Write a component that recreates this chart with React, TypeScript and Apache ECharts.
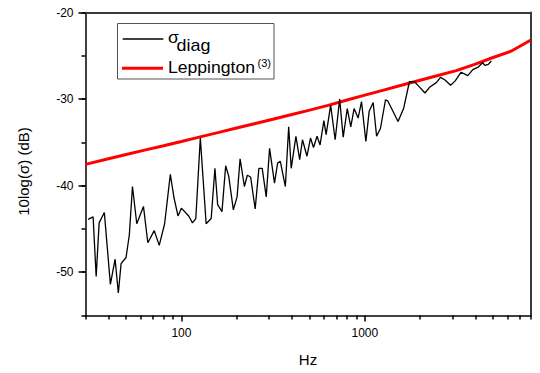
import React, { useEffect, useRef } from "react";
import * as echarts from "echarts";

// sigma_diag (Hz, dB)
const diagFreq = [
  31, 33, 34.3, 35.6, 38, 41, 43.5, 45.3, 46.9, 49.9,
  52, 54.1, 57.1, 62.1, 65.6, 71.1, 75.7, 81, 87, 91.1,
  95.8, 100, 109.6, 114.9, 119.8, 126.8, 136.4, 145.3, 152.3, 157.6,
  166.4, 174.3, 181.1, 191.9, 201.1, 208.9, 220.5, 228.7, 238.4, 252.4,
  264.5, 275.7, 290, 302.4, 321.7, 334.5, 346.1, 368.7, 384.4, 396.8,
  421, 441.2, 457.1, 483.6, 505.5, 525, 548.8, 570, 598, 615,
  651, 689, 729, 762, 802, 838, 874, 919, 959, 1013,
  1056, 1110, 1159, 1216, 1296, 1332, 1517, 1626, 1750, 1864,
  1966, 2126, 2264, 2452, 2585, 2736, 2934, 3109, 3350, 3640,
  3878, 4152, 4384, 4512, 4711, 4893,
];
const diagDb = [
  -43.9, -43.6, -50.5, -44.3, -43.1, -51.4, -48.5, -52.4, -49.0, -48.3,
  -45.7, -40.1, -44.4, -42.4, -46.6, -45.2, -46.9, -44.4, -38.7, -41.4,
  -43.5, -42.6, -43.5, -44.3, -43.8, -34.5, -44.4, -43.8, -38.0, -42.2,
  -43.0, -37.7, -38.9, -42.8, -41.3, -36.9, -40.1, -38.8, -39.0, -42.7,
  -38.0, -38.0, -41.3, -35.7, -39.7, -37.4, -37.2, -40.1, -33.2, -38.0,
  -34.3, -37.0, -34.7, -36.6, -34.5, -35.6, -34.3, -35.3, -32.5, -34.1,
  -30.7, -34.7, -30.0, -34.4, -31.1, -33.2, -31.1, -32.2, -30.3, -34.9,
  -31.4, -30.4, -34.3, -33.4, -30.1, -30.2, -32.6, -31.1, -28.0, -28.0,
  -28.5, -29.3, -28.6, -28.1, -27.5, -27.8, -28.4, -27.9, -26.9, -27.3,
  -26.6, -26.3, -25.8, -26.1, -26.0, -25.6,
];

// Leppington(3) (Hz, dB)
const leppFreq = [
  30, 40, 50, 63, 80, 100, 125, 160, 200, 250, 315, 400, 500,
  630, 800, 1000, 1250, 1600, 2000, 2500, 3150, 4000, 5000, 6300, 8000,
];
const leppDb = [
  -37.54, -36.9, -36.41, -35.9, -35.39, -34.9, -34.4, -33.85, -33.35, -32.85, -32.33, -31.79, -31.28,
  -30.73, -30.11, -29.54, -28.99, -28.38, -27.82, -27.28, -26.71, -25.96, -25.2, -24.45, -23.2,
];

const xMin = 30;
const xMax = 8000;
const yMin = -55;
const yMax = -20;
const xMinorTicks = [
  30, 40, 50, 60, 70, 80, 90, 200, 300, 400, 500, 600, 700, 800, 900,
  2000, 3000, 4000, 5000, 6000, 7000, 8000,
];
const xLabelValues = [100, 1000];
const yLabelValues = [-50, -40, -30, -20];

const FONT = "'Liberation Sans', Arial, sans-serif";

export default function App() {
  const ref = useRef<HTMLDivElement>(null);

  useEffect(() => {
    if (!ref.current) return;
    const chart = echarts.init(ref.current, undefined, { renderer: "svg" });

    const isLabelX = (v: number) =>
      xLabelValues.some((l) => Math.abs(Math.log10(v) - Math.log10(l)) < 1e-6);

    const hiddenSplit = { show: true, lineStyle: { opacity: 0 } };
    const baseX = {
      type: "log",
      logBase: 10,
      min: xMin,
      max: xMax,
      splitLine: hiddenSplit,
    };
    const baseY = {
      type: "value",
      min: yMin,
      max: yMax,
      interval: 5,
      splitLine: hiddenSplit,
    };

    chart.setOption({
      animation: false,
      grid: { left: 85.5, right: 9.5, top: 12.5, bottom: 57.5 },
      xAxis: [
        {
          ...baseX,
          axisLine: { show: true, onZero: false, lineStyle: { color: "#000", width: 1.5 } },
          axisTick: {
            show: true,
            length: 4,
            customValues: xMinorTicks,
            lineStyle: { color: "#000", width: 1.5 },
          },
          axisLabel: {
            show: true,
            margin: 11,
            color: "#000",
            fontSize: 12,
            fontFamily: FONT,
            customValues: xLabelValues,
            formatter: (v: number) => (isLabelX(v) ? String(Math.round(v)) : ""),
          },
          name: "Hz",
          nameLocation: "middle",
          nameGap: 36,
          nameTextStyle: { color: "#000", fontSize: 15, fontFamily: FONT },
        },
        {
          ...baseX,
          position: "bottom",
          axisLine: { show: false },
          axisTick: {
            show: true,
            length: 6,
            customValues: xLabelValues,
            lineStyle: { color: "#000", width: 1.5 },
          },
          axisLabel: { show: false },
        },
        {
          ...baseX,
          position: "top",
          axisLine: { show: true, onZero: false, lineStyle: { color: "#3a3a3a", width: 2 } },
          axisTick: { show: false },
          axisLabel: { show: false },
        },
      ],
      yAxis: [
        {
          ...baseY,
          axisLine: { show: true, onZero: false, lineStyle: { color: "#000", width: 1.5 } },
          axisTick: { show: true, length: 4, lineStyle: { color: "#000", width: 1.5 } },
          axisLabel: {
            margin: 12,
            color: "#000",
            fontSize: 12,
            fontFamily: FONT,
            formatter: (v: number) => (yLabelValues.includes(v) ? String(v) : ""),
          },
        },
        {
          ...baseY,
          position: "left",
          axisLine: { show: false },
          axisTick: {
            show: true,
            length: 7,
            customValues: yLabelValues,
            lineStyle: { color: "#000", width: 1.5 },
          },
          axisLabel: { show: false },
        },
        {
          ...baseY,
          position: "right",
          axisLine: { show: true, onZero: false, lineStyle: { color: "#3a3a3a", width: 2 } },
          axisTick: { show: false },
          axisLabel: { show: false },
        },
      ],
      graphic: [
        {
          type: "text",
          x: 23.3,
          y: 171.5,
          rotation: Math.PI / 2,
          style: {
            text: "10log(σ) (dB)",
            fontSize: 15,
            fontFamily: FONT,
            fill: "#000",
            align: "center",
            verticalAlign: "middle",
          },
        },
        {
          type: "group",
          children: [
            {
              type: "rect",
              shape: { x: 117.5, y: 23.5, width: 156.5, height: 55.5 },
              style: { fill: "#fff", stroke: "#555", lineWidth: 1 },
              z: 10,
            },
            {
              type: "line",
              shape: { x1: 122.7, y1: 39, x2: 163.3, y2: 39 },
              style: { stroke: "#000", lineWidth: 1.3 },
              z: 11,
            },
            {
              type: "line",
              shape: { x1: 122, y1: 68.3, x2: 163, y2: 68.3 },
              style: { stroke: "#ff0000", lineWidth: 3 },
              z: 11,
            },
            {
              type: "text",
              x: 168,
              y: 38,
              scaleX: 1.1,
              style: { text: "σ", fontSize: 16, fontFamily: FONT, fill: "#000", align: "left", verticalAlign: "middle" },
              z: 11,
            },
            {
              type: "text",
              x: 176.5,
              y: 45.5,
              scaleX: 1.12,
              style: { text: "diag", fontSize: 16, fontFamily: FONT, fill: "#000", align: "left", verticalAlign: "middle" },
              z: 11,
            },
            {
              type: "text",
              x: 168,
              y: 68,
              scaleX: 1.1,
              style: { text: "Leppington", fontSize: 16, fontFamily: FONT, fill: "#000", align: "left", verticalAlign: "middle" },
              z: 11,
            },
            {
              type: "text",
              x: 257.5,
              y: 63,
              style: { text: "(3)", fontSize: 11, fontFamily: FONT, fill: "#000", align: "left", verticalAlign: "middle" },
              z: 11,
            },
          ],
        },
      ],
      series: [
        {
          name: "Leppington(3)",
          type: "line",
          xAxisIndex: 0,
          yAxisIndex: 0,
          data: leppFreq.map((f, i) => [f, leppDb[i]]),
          showSymbol: false,
          symbol: "none",
          lineStyle: { color: "#ff0000", width: 3 },
          z: 3,
        },
        {
          name: "σdiag",
          type: "line",
          xAxisIndex: 0,
          yAxisIndex: 0,
          data: diagFreq.map((f, i) => [f, diagDb[i]]),
          showSymbol: false,
          symbol: "none",
          lineStyle: { color: "#000000", width: 1.3 },
          z: 4,
        },
      ],
    });

    return () => chart.dispose();
  }, []);

  return <div ref={ref} style={{ width: 540, height: 373, position: "absolute", left: 0, top: 0 }} />;
}
